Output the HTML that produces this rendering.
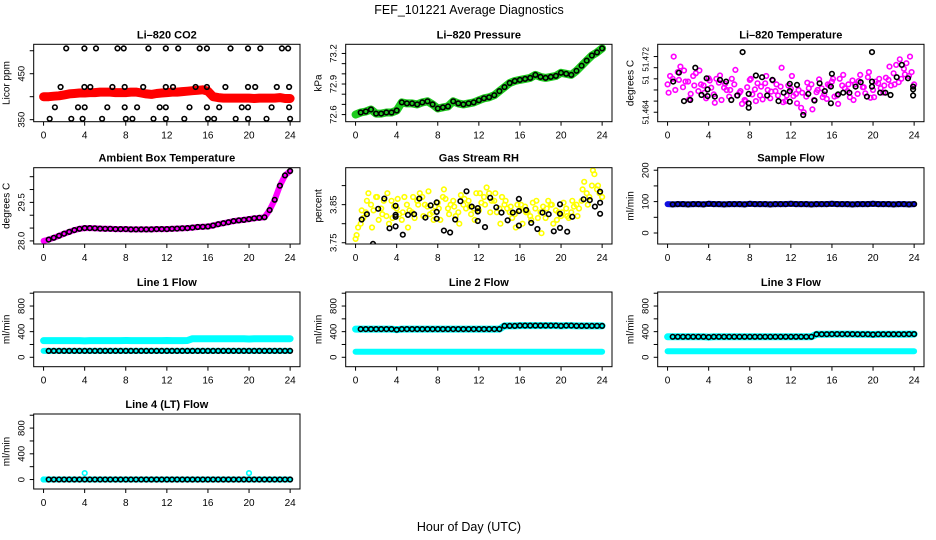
<!DOCTYPE html>
<html><head><meta charset="utf-8"><title>FEF_101221 Average Diagnostics</title>
<style>
html,body{margin:0;padding:0;background:#fff;}
svg{display:block;font-family:"Liberation Sans",Arial,sans-serif;}
</style></head>
<body>
<svg id="chart" width="936" height="540" viewBox="0 0 936 540" xmlns="http://www.w3.org/2000/svg">
<rect width="936" height="540" fill="#fff"/>
<text x="469" y="14" font-size="12.5" text-anchor="middle">FEF_101221  Average Diagnostics</text>
<text x="469" y="531" font-size="12.5" text-anchor="middle">Hour of Day (UTC)</text>
</svg>
<script>
// ---- data ----
const H49 = [0,0.5,1,1.5,2,2.5,3,3.5,4,4.5,5,5.5,6,6.5,7,7.5,8,8.5,9,9.5,10,10.5,11,11.5,12,12.5,13,13.5,14,14.5,15,15.5,16,16.5,17,17.5,18,18.5,19,19.5,20,20.5,21,21.5,22,22.5,23,23.5,24];
const xTicks = [0,4,8,12,16,20,24];

const co2Red = [400,400,401,402,404,406,407,408,408,409,409,410,410,410,409,409,409,410,410,408,406,405,407,408,409,410,410,411,412,413,414,415,412,400,398,397,397,397,397,397,397,396,397,397,397,397,398,396,396];
const co2BlkH = [2.2,3.97,5.1,7.2,7.8,10.2,11.9,13.1,15.2,15.9,18.2,19.9,21.1,23.2,23.8, 1.66,3.97,4.55,6.7,7.9,9.7,11.9,12.6,14.8,15.9,17.7,19.9,20.6,22.7,23.9, 1.1,3.35,4.0,6.2,7.9,9.1,11.3,11.9,14.2,15.9,17.1,19.3,19.9,22.2,23.9, 0.6,2.7,3.8,5.7,8.0,8.65,10.7,11.9,13.7,16.0,16.6,18.7,19.9,21.7,24];
const co2BlkV = [505,505,505,505,505,505,505,505,505,505,505,505,505,505,505, 421,421,421,421,421,421,421,421,421,421,421,421,421,421,421, 377,377,377,377,377,377,377,377,377,377,377,377,377,377,377, 352,352,352,352,352,352,352,352,352,352,352,352,352,352,352];

const pressure = [72.60,72.62,72.63,72.65,72.61,72.61,72.62,72.62,72.64,72.72,72.71,72.71,72.70,72.72,72.73,72.70,72.66,72.67,72.68,72.73,72.71,72.70,72.71,72.72,72.74,72.76,72.77,72.79,72.83,72.87,72.91,72.93,72.94,72.95,72.96,72.99,72.97,72.96,72.97,72.98,73.01,73.00,72.99,73.03,73.08,73.13,73.18,73.21,73.25];

const tempA = [51.4690,51.4700,51.4712,51.4685,51.4695,51.4705,51.4678,51.4688,51.4701,51.4672,51.4693,51.4684,51.4668,51.4690,51.4675,51.4662,51.4698,51.4681,51.4670,51.4692,51.4665,51.4678,51.4686,51.4660,51.4682,51.4673,51.4648,51.4668,51.4690,51.4676,51.4683,51.4664,51.4695,51.4670,51.4688,51.4678,51.4697,51.4673,51.4685,51.4703,51.4680,51.4692,51.4675,51.4698,51.4710,51.4694,51.4718,51.4705,51.4690];
const tempB = [51.4705,51.4680,51.4722,51.4695,51.4673,51.4710,51.4690,51.4665,51.4684,51.4700,51.4662,51.4680,51.4700,51.4670,51.4655,51.4685,51.4672,51.4692,51.4663,51.4680,51.4697,51.4670,51.4658,51.4688,51.4669,51.4680,51.4640,51.4683,51.4662,51.4699,51.4672,51.4688,51.4668,51.4700,51.4683,51.4667,51.4690,51.4707,51.4674,51.4666,51.4695,51.4683,51.4702,51.4688,51.4725,51.4700,51.4728,51.4712];
const tempC = [51.4675,51.4740,51.4698,51.4715,51.4663,51.4688,51.4715,51.4675,51.4697,51.4657,51.4706,51.4691,51.4680,51.4716,51.4678,51.4660,51.4700,51.4660,51.4686,51.4705,51.4677,51.4690,51.4720,51.4670,51.4705,51.4656,51.4675,51.4693,51.4645,51.4680,51.4667,51.4690,51.4700,51.4655,51.4707,51.4690,51.4662,51.4696,51.4685,51.4712,51.4667,51.4700,51.4688,51.4722,51.4690,51.4735,51.4708,51.4740];
const tempBlkH = [0.55,1.1,1.6,2.2,2.7,3.3,3.8,3.9,3.9,4.6,5.1,5.7,6.2,6.8,7.3,7.9,7.9,7.9,8.6,9.2,9.7,10.2,10.8,11.3,11.9,11.9,11.9,12.6,13.2,13.7,14.3,14.8,15.3,15.9,15.9,16.0,16.6,17.1,17.7,18.3,18.8,19.4,19.9,19.9,19.9,20.7,21.2,21.7,22.3,22.8,23.4,23.9,23.9,23.9];
const tempBlkV = [51.4695,51.4711,51.4660,51.4662,51.4720,51.4671,51.4701,51.4681,51.4669,51.4668,51.4698,51.4695,51.4662,51.4670,51.4748,51.4673,51.4656,51.4648,51.4706,51.4703,51.4670,51.4698,51.4660,51.4675,51.4691,51.4678,51.4659,51.4689,51.4635,51.4673,51.4661,51.4692,51.4678,51.4686,51.4656,51.4709,51.4672,51.4675,51.4675,51.4686,51.4694,51.4668,51.4695,51.4686,51.4748,51.4675,51.4675,51.4671,51.4703,51.4725,51.4701,51.4686,51.4681,51.4670];

const ambient = [28.00,28.05,28.12,28.20,28.28,28.35,28.42,28.47,28.50,28.50,28.49,28.48,28.47,28.47,28.46,28.46,28.46,28.45,28.45,28.45,28.45,28.45,28.46,28.46,28.46,28.47,28.48,28.49,28.50,28.52,28.54,28.55,28.56,28.60,28.65,28.69,28.73,28.77,28.80,28.82,28.85,28.88,28.90,28.92,29.20,29.60,30.15,30.55,30.72];

const rhA = [3.760,3.800,3.830,3.850,3.870,3.840,3.820,3.860,3.840,3.810,3.850,3.830,3.860,3.870,3.845,3.830,3.855,3.870,3.840,3.860,3.830,3.850,3.860,3.840,3.835,3.870,3.880,3.860,3.840,3.850,3.830,3.825,3.835,3.845,3.820,3.840,3.830,3.815,3.850,3.835,3.820,3.840,3.830,3.850,3.860,3.880,3.900,3.890,3.870];
const rhB = [3.790,3.815,3.880,3.835,3.810,3.860,3.800,3.845,3.825,3.870,3.835,3.815,3.880,3.850,3.825,3.845,3.810,3.865,3.850,3.820,3.875,3.840,3.825,3.880,3.855,3.895,3.860,3.830,3.870,3.840,3.815,3.850,3.800,3.830,3.855,3.815,3.845,3.860,3.800,3.830,3.855,3.815,3.845,3.840,3.910,3.870,3.930,3.880];
const rhC = [3.770,3.835,3.860,3.790,3.870,3.825,3.880,3.815,3.865,3.830,3.790,3.870,3.850,3.820,3.885,3.810,3.840,3.890,3.825,3.845,3.800,3.865,3.845,3.810,3.880,3.850,3.830,3.880,3.800,3.860,3.845,3.790,3.850,3.830,3.810,3.860,3.775,3.840,3.850,3.810,3.830,3.820,3.860,3.820,3.890,3.850,3.940,3.900];
const rhBlkH = [0.6,1.1,1.7,2.2,2.8,3.3,3.9,3.9,3.9,3.9,4.6,5.1,5.7,6.2,6.8,7.3,7.9,7.9,7.9,8.6,9.2,9.7,10.2,10.8,11.3,11.9,11.9,11.9,12.6,13.1,13.7,14.2,14.8,15.3,15.9,15.9,15.9,16.6,17.1,17.7,18.2,18.8,19.3,19.9,19.9,19.9,20.6,21.1,22.2,22.8,23.3,23.8,23.8,23.8];
const rhBlkV = [3.811,3.825,3.747,3.839,3.866,3.788,3.793,3.818,3.823,3.847,3.771,3.823,3.825,3.866,3.816,3.848,3.856,3.831,3.813,3.782,3.777,3.811,3.859,3.885,3.845,3.841,3.832,3.807,3.791,3.868,3.843,3.829,3.809,3.829,3.865,3.833,3.795,3.836,3.802,3.786,3.829,3.825,3.780,3.851,3.826,3.789,3.779,3.818,3.864,3.862,3.845,3.884,3.855,3.826];

const sampleFlow = [92,91,92,92,91,92,92,91,93,92,92,91,92,92,92,91,93,92,92,92,91,92,92,92,93,92,92,92,91,92,92,92,93,92,92,92,91,92,92,92,93,92,92,92,91,92,92,91,92];

const line1High = [260,260,260,260,260,260,260,260,255,260,260,260,260,260,260,260,262,260,260,260,260,260,260,260,262,260,260,260,262,290,290,290,290,290,290,290,290,290,290,290,285,290,290,290,290,290,290,290,290];
const line1Low  = [100,100,100,100,100,100,100,100,100,100,100,100,100,100,100,100,100,100,100,100,100,100,100,100,100,100,100,100,100,100,100,100,100,100,100,100,100,100,100,100,100,100,100,100,100,100,100,100,100];
const line2High = [440,440,440,440,440,440,440,440,430,440,440,440,440,440,440,440,440,440,440,440,440,440,440,440,440,440,440,440,440,490,490,490,495,495,495,495,495,495,495,495,490,495,495,490,490,490,490,490,490];
const line2Low  = [85,85,85,85,85,85,85,85,85,85,85,85,85,85,85,85,85,85,85,85,85,85,85,85,85,85,85,85,85,85,85,85,85,85,85,85,85,85,85,85,85,85,85,85,85,85,85,85,85];
const line3High = [320,320,320,320,320,320,320,320,315,320,320,320,320,320,320,320,320,320,320,320,320,320,320,320,320,320,320,320,320,360,360,360,362,362,362,362,362,360,360,360,355,360,360,360,360,360,360,362,362];
const line3Low  = [95,95,95,95,95,95,95,95,95,95,95,95,95,95,95,95,95,95,95,95,95,95,95,95,95,95,95,95,95,95,95,95,95,95,95,95,95,95,95,95,95,95,95,95,95,95,95,95,95];
const line4Cyan = [0,0,0,0,0,0,0,0,100,0,0,0,0,0,0,0,0,0,0,0,0,0,0,0,0,0,0,0,0,0,0,0,0,0,0,0,0,0,0,0,100,0,0,0,0,0,0,0,0];
const line4Blk  = [0,0,0,0,0,0,0,0,0,0,0,0,0,0,0,0,0,0,0,0,0,0,0,0,0,0,0,0,0,0,0,0,0,0,0,0,0,0,0,0,0,0,0,0,0,0,0,0,0];

// ---- rendering ----
const NS = 'http://www.w3.org/2000/svg';
const svg = document.getElementById('chart');
function mk(tag, attrs, parent){
  const e = document.createElementNS(NS, tag);
  for (const k in attrs) e.setAttribute(k, attrs[k]);
  (parent||svg).appendChild(e);
  return e;
}
const ROW_TOP = [44.3, 167.7, 292, 414];
const BOX_H = [77.4, 76.3, 74.7, 75];

function panel(p){
  const g = mk('g', {});
  
  
  const L = 33.7 + 312*p.col, R = 300 + 312*p.col;
  const T = ROW_TOP[p.row], B = T + BOX_H[p.row];
  const xs = h => L + (h + 0.96) * (R - L) / 25.92;
  const ys = v => B - (v - p.ylim[0]) * (B - T) / (p.ylim[1] - p.ylim[0]);
  const plot = mk('g', {'clip-path':'url(#clip'+p.name+')'}, g);
  const cp = mk('clipPath', {id:'clip'+p.name}, g);
  mk('rect', {x:L, y:T, width:R-L, height:B-T}, cp);
  p.series.forEach(s => {
    if (s.kind === 'band'){
      const pts = s.v.map((v,i) => xs(s.h[i]).toFixed(1)+','+ys(v).toFixed(1)).join(' ');
      const pl = mk('polyline', {points:pts, fill:'none', stroke:s.color, 'stroke-width':s.w, 'stroke-linejoin':'round', 'stroke-linecap':'round'}, plot);
      
      
    } else {
      const sg = mk('g', {}, plot);
      
      
      s.v.forEach((v,i) => {
        const c = mk('circle', {cx:xs(s.h[i]).toFixed(1), cy:ys(v).toFixed(1), r:2.3, fill:'none', stroke:s.color, 'stroke-width':1.6}, sg);
        
        
      });
    }
  });
  const box = mk('rect', {x:L, y:T, width:R-L, height:B-T, fill:'none', stroke:'#000', 'stroke-width':1}, g);
  
  
  const xa = mk('g', {}, g);
  
  
  xTicks.forEach(t => {
    mk('line', {x1:xs(t), x2:xs(t), y1:B, y2:B+4, stroke:'#000'}, xa);
    const tx = mk('text', {x:xs(t), y:B+17, 'font-size':10, 'text-anchor':'middle'}, xa);
    tx.textContent = t;
  });
  const ya = mk('g', {}, g);
  
  
  p.yticks.forEach(t => mk('line', {x1:L-4, x2:L, y1:ys(t), y2:ys(t), stroke:'#000'}, ya));
  const fs = p.yfs || 9.5;
  p.ylabels.forEach((t,i) => {
    const y = ys(p.ylabelPos ? p.ylabelPos[i] : parseFloat(t));
    const tx = mk('text', {x:L-9, y:y, 'font-size':fs, 'text-anchor':'middle', transform:'rotate(-90 '+(L-9)+' '+y+')'}, ya);
    tx.textContent = t;
  });
  const yt = mk('text', {x:L-24, y:(T+B)/2, 'font-size':10, 'text-anchor':'middle', transform:'rotate(-90 '+(L-24)+' '+((T+B)/2)+')'}, g);
  yt.textContent = p.ylab;
  
  
  const ti = mk('text', {x:(L+R)/2, y:T-6, 'font-size':11, 'font-weight':'bold', 'text-anchor':'middle'}, g);
  ti.textContent = p.title;
  
  
}
const H48b = H49.slice(0,48).map(h => h + 0.25);
const H48c = H49.slice(0,48).map(h => h + 0.1);
const H48d = H49.slice(1);
const flowTicks = [0,200,400,600,800,1000];

panel({name:'co2', col:0, row:0, title:'Li\u2013820 CO2', ylab:'Licor ppm', ylim:[345.6,514], yticks:[350,400,450,500], ylabels:['350','450'],
  series:[{kind:'band', name:'co2-red-band', color:'#ff0000', w:9, h:H49, v:co2Red},
          {kind:'pts', name:'co2-black-points', color:'#000', h:co2BlkH, v:co2BlkV}]});
panel({name:'pressure', col:1, row:0, title:'Li\u2013820 Pressure', ylab:'kPa', ylim:[72.53,73.29], yticks:[72.6,72.7,72.8,72.9,73.0,73.1,73.2], ylabels:['72.6','72.9','73.2'],
  series:[{kind:'band', name:'pressure-green-band', color:'#1fcc1f', w:8, h:H49, v:pressure},
          {kind:'pts', name:'pressure-black-points', color:'#000', h:H48d, v:pressure.slice(1)}]});
panel({name:'licor-temp', col:2, row:0, title:'Li\u2013820 Temperature', ylab:'degrees C', ylim:[51.4623,51.4762], yticks:[51.464,51.466,51.468,51.470,51.472,51.474], ylabels:['51.464','51','51.472'], ylabelPos:[51.464,51.4698,51.4735], yfs:8,
  series:[{kind:'pts', name:'temp-magenta-a', color:'#ff00ff', h:H49, v:tempA},
          {kind:'pts', name:'temp-magenta-b', color:'#ff00ff', h:H48b, v:tempB},
          {kind:'pts', name:'temp-magenta-c', color:'#ff00ff', h:H48c, v:tempC},
          {kind:'pts', name:'temp-black-points', color:'#000', h:tempBlkH, v:tempBlkV}]});
panel({name:'ambient-temp', col:0, row:1, title:'Ambient Box Temperature', ylab:'degrees C', ylim:[27.88,30.85], yticks:[28,28.5,29,29.5,30,30.5], ylabels:['28.0','29.5'],
  series:[{kind:'band', name:'ambient-magenta-band', color:'#ff00ff', w:6, h:H49, v:ambient},
          {kind:'pts', name:'ambient-black-points', color:'#000', h:H48d, v:ambient.slice(1)}]});
panel({name:'rh', col:1, row:1, title:'Gas Stream RH', ylab:'percent', ylim:[3.7467,3.947], yticks:[3.75,3.80,3.85,3.90], ylabels:['3.75','3.85'],
  series:[{kind:'pts', name:'rh-yellow-a', color:'#ffff00', h:H49, v:rhA},
          {kind:'pts', name:'rh-yellow-b', color:'#ffff00', h:H48b, v:rhB},
          {kind:'pts', name:'rh-yellow-c', color:'#ffff00', h:H48c, v:rhC},
          {kind:'pts', name:'rh-black-points', color:'#000', h:rhBlkH, v:rhBlkV}]});
panel({name:'sample-flow', col:2, row:1, title:'Sample Flow', ylab:'ml/min', ylim:[-35,208], yticks:[0,50,100,150,200], ylabels:['0','100','200'],
  series:[{kind:'band', name:'sample-blue-band', color:'#1010e0', w:6, h:H49, v:sampleFlow},
          {kind:'pts', name:'sample-black-points', color:'#000', h:H48d, v:sampleFlow.slice(1)}]});
panel({name:'line1', col:0, row:2, title:'Line 1 Flow', ylab:'ml/min', ylim:[-147,1019], yticks:flowTicks, ylabels:['0','400','800'],
  series:[{kind:'band', name:'line1-cyan-high', color:'#00ffff', w:7, h:H49, v:line1High},
          {kind:'band', name:'line1-cyan-low', color:'#00ffff', w:6, h:H49, v:line1Low},
          {kind:'pts', name:'line1-black-points', color:'#000', h:H48d, v:line1Low.slice(1)}]});
panel({name:'line2', col:1, row:2, title:'Line 2 Flow', ylab:'ml/min', ylim:[-147,1019], yticks:flowTicks, ylabels:['0','400','800'],
  series:[{kind:'band', name:'line2-cyan-high', color:'#00ffff', w:7, h:H49, v:line2High},
          {kind:'band', name:'line2-cyan-low', color:'#00ffff', w:6, h:H49, v:line2Low},
          {kind:'pts', name:'line2-black-points', color:'#000', h:H48d, v:line2High.slice(1)}]});
panel({name:'line3', col:2, row:2, title:'Line 3 Flow', ylab:'ml/min', ylim:[-147,1019], yticks:flowTicks, ylabels:['0','400','800'],
  series:[{kind:'band', name:'line3-cyan-high', color:'#00ffff', w:7, h:H49, v:line3High},
          {kind:'band', name:'line3-cyan-low', color:'#00ffff', w:6, h:H49, v:line3Low},
          {kind:'pts', name:'line3-black-points', color:'#000', h:H48d, v:line3High.slice(1)}]});
panel({name:'line4', col:0, row:3, title:'Line 4 (LT) Flow', ylab:'ml/min', ylim:[-147,1019], yticks:flowTicks, ylabels:['0','400','800'],
  series:[{kind:'band', name:'line4-cyan-band', color:'#00ffff', w:6, h:H49, v:line4Blk},
          {kind:'pts', name:'line4-cyan-points', color:'#00ffff', h:H49, v:line4Cyan},
          {kind:'pts', name:'line4-black-points', color:'#000', h:H48d, v:line4Blk.slice(1)}]});
</script>
</body></html>
